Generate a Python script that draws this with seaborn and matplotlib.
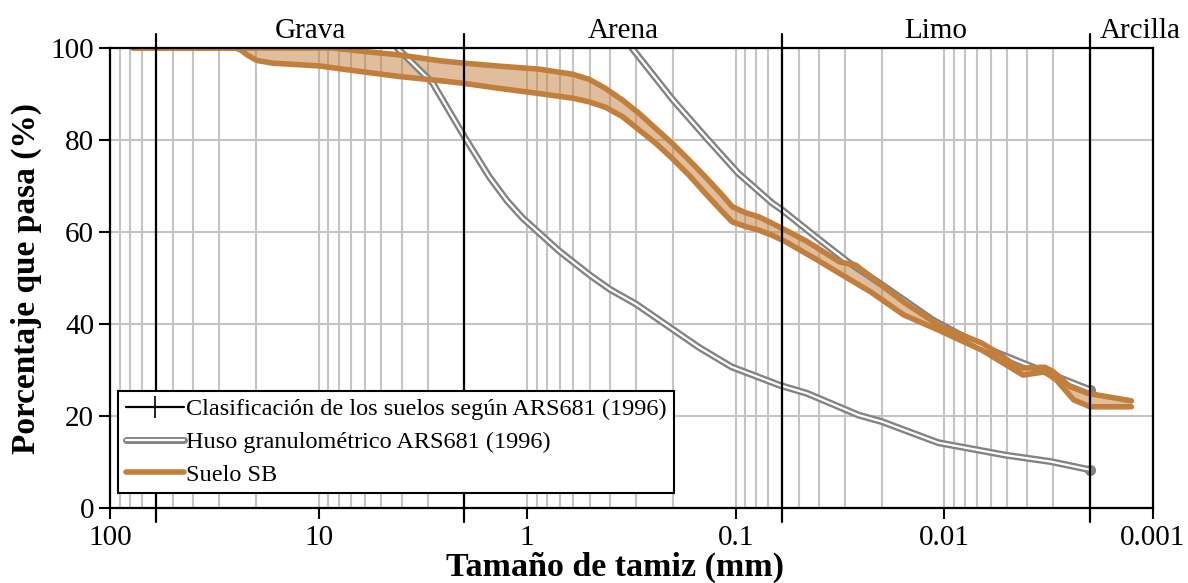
import matplotlib
matplotlib.use("Agg")
import matplotlib.pyplot as plt
import matplotlib.transforms as mtransforms
from matplotlib.lines import Line2D
from matplotlib.legend_handler import HandlerTuple
from matplotlib.ticker import LogLocator, NullFormatter
import seaborn as sns
import pandas as pd

# Suelo SB band (upper / lower curve), size in mm, % passing
sb_sup_mm = [77.6, 20, 8.6, 5.9, 4.1, 2.6, 2.0, 1.4, 0.877, 0.607, 0.505, 0.421, 0.35, 0.291,
             0.242, 0.202, 0.168, 0.14, 0.116, 0.104, 0.09, 0.0776, 0.067, 0.0578, 0.0454,
             0.0318, 0.0266, 0.0226, 0.0157, 0.0107, 0.0066, 0.0055, 0.0044, 0.0033,
             0.0030, 0.0025, 0.00204, 0.00127]
sb_sup_pct = [100, 100, 100, 99.2, 98.5, 97.2, 96.7, 96.1, 95.4, 94.3, 93.2, 91.2, 88.7, 85.8,
              82.5, 79.3, 75.7, 72.0, 68.0, 65.5, 64.2, 63.3, 61.9, 60.4, 57.9,
              53.5, 52.8, 50.3, 44.8, 39.8, 35.8, 33.6, 30.4, 30.6,
              29.6, 26.4, 24.9, 23.3]
sb_inf_mm = [77.6, 25, 23.5, 22, 19.8, 16.6, 9.9, 7.1, 4.1, 2.5, 2.0, 1.4, 0.877, 0.607,
             0.505, 0.421, 0.35, 0.291, 0.242, 0.202, 0.168, 0.14, 0.116, 0.104, 0.09,
             0.0776, 0.067, 0.0578, 0.0406, 0.0318, 0.0226, 0.0157, 0.0107, 0.0066,
             0.0042, 0.0033, 0.0029, 0.0024, 0.0020, 0.00127]
sb_inf_pct = [100, 100, 99.5, 98.5, 97.3, 96.7, 96.1, 95.2, 93.8, 92.8, 92.3, 91.3, 90.1, 89.1,
              88.3, 87.1, 85.1, 82.2, 79.3, 76.0, 72.4, 68.4, 64.4, 62.2, 61.2,
              60.4, 59.3, 57.9, 53.9, 51.0, 47.0, 42.0, 38.7, 34.3,
              28.9, 29.6, 27.8, 23.5, 22.0, 22.0]

# Huso granulometrico ARS681 (1996)
huso_sup_mm = [0.315, 0.2, 0.14, 0.0975, 0.067, 0.06, 0.0415, 0.029, 0.0193, 0.0114,
               0.0066, 0.0038, 0.002]
huso_sup_pct = [100, 88.7, 80.7, 72.8, 66.3, 64.8, 59.0, 53.5, 48.1, 40.9, 35.1, 30.7, 25.7]
huso_inf_mm = [4.2, 2.84, 2.0, 1.52, 1.25, 1.05, 0.7, 0.5, 0.4, 0.3, 0.2, 0.15, 0.105, 0.0617,
               0.0454, 0.0258, 0.02, 0.0107, 0.0051, 0.0031, 0.002]
huso_inf_pct = [100, 92.4, 80.7, 72.0, 66.8, 63.0, 55.8, 50.6, 47.5, 44.3, 38.8, 34.9, 30.7,
                26.7, 24.9, 20.2, 18.8, 14.2, 11.5, 10.1, 8.3]

# Clasificacion ARS681 (1996) limits
limites_mm = [60, 2, 0.06, 0.002]
fracciones = ["Grava", "Arena", "Limo", "Arcilla"]
fracciones_x = [10.95, 0.346, 0.011, 0.00115]

xtick_vals = [100, 10, 1, 0.1, 0.01, 0.001]
xtick_labels = ["100", "10", "1", "0.1", "0.01", "0.001"]
ytick_vals = [0, 20, 40, 60, 80, 100]

sns.set_theme(style="white")
plt.rcParams["font.family"] = ["Liberation Serif", "DejaVu Serif"]
plt.rcParams["text.color"] = "black"
plt.rcParams["axes.labelcolor"] = "black"

orange = "#c27f3c"
gray = "#838383"

fig = plt.figure(figsize=(11.88, 5.83), dpi=100)
ax = fig.add_axes([110 / 1188, 75 / 583, 1043 / 1188, 460 / 583])
ax.set_xscale("log")

# Suelo SB band
sup = pd.DataFrame({"mm": sb_sup_mm, "pct": sb_sup_pct})
inf = pd.DataFrame({"mm": sb_inf_mm, "pct": sb_inf_pct})
ax.fill(list(sup["mm"]) + list(inf["mm"])[::-1], list(sup["pct"]) + list(inf["pct"])[::-1],
        color=orange, alpha=0.5, lw=0, zorder=3)

# Huso curves (double line)
for xs, ys in [(huso_sup_mm, huso_sup_pct), (huso_inf_mm, huso_inf_pct)]:
    d = pd.DataFrame({"mm": xs, "pct": ys})
    sns.lineplot(data=d, x="mm", y="pct", ax=ax, color=gray, lw=5, sort=False,
                 estimator=None, solid_capstyle="round", solid_joinstyle="round", zorder=4,
                 marker="o", markevery=[len(xs) - 1], markersize=8, markeredgewidth=0)
    sns.lineplot(data=d, x="mm", y="pct", ax=ax, color="white", lw=1.6, sort=False,
                 estimator=None, solid_capstyle="round", solid_joinstyle="round", zorder=4.1)

for d in [sup, inf]:
    sns.lineplot(data=d, x="mm", y="pct", ax=ax, color=orange, lw=4, sort=False,
                 estimator=None, solid_capstyle="round", solid_joinstyle="round", zorder=5)

# classification limits
for lim in limites_mm:
    ax.plot([lim, lim, lim, lim], [-3, 0, 100, 103], color="black", lw=1.6,
            marker="+", markevery=[1, 2], markersize=16, markeredgewidth=1.2,
            clip_on=False, zorder=6)

trans = mtransforms.blended_transform_factory(ax.transData, ax.transAxes)
for name, xpos in zip(fracciones, fracciones_x):
    ax.text(xpos, 1.008, name, transform=trans, ha="center", va="bottom",
            fontsize=21, color="black")

ax.set_xlim(100, 0.001)
ax.set_ylim(0, 100)
ax.set_xticks(xtick_vals)
ax.set_xticklabels(xtick_labels)
ax.xaxis.set_minor_locator(LogLocator(base=10, subs=range(2, 10), numticks=20))
ax.xaxis.set_minor_formatter(NullFormatter())
ax.set_yticks(ytick_vals)

ax.set_axisbelow(True)
ax.grid(True, which="both", axis="x", color="#c4c4c4", lw=1.5)
ax.grid(True, which="major", axis="y", color="#c4c4c4", lw=1.5)
for s in ax.spines.values():
    s.set_color("black")
    s.set_linewidth(1.6)
    s.set_zorder(7)

ax.tick_params(axis="both", which="major", direction="out", length=8, width=1.5,
               labelsize=21, color="black", labelcolor="black", bottom=True, left=True)
ax.tick_params(axis="x", which="major", pad=4)
ax.tick_params(axis="x", which="minor", length=0)

ax.set_xlabel("Tamaño de tamiz (mm)", fontsize=24.5, fontweight="bold", color="black")
ax.xaxis.set_label_coords((615 - 110) / 1043, -0.095)
ax.set_ylabel("Porcentaje que pasa (%)", fontsize=24, fontweight="bold", labelpad=6,
              color="black")

h_clas = Line2D([], [], color="black", lw=1.6, marker="+", markersize=16, markeredgewidth=1.2)
h_huso = (Line2D([], [], color=gray, lw=5, solid_capstyle="round"),
          Line2D([], [], color="white", lw=1.6, solid_capstyle="round"))
h_sb = Line2D([], [], color=orange, lw=4)
leg = ax.legend([h_clas, h_huso, h_sb],
                ["Clasificación de los suelos según ARS681 (1996)",
                 "Huso granulométrico ARS681 (1996)", "Suelo SB"],
                handler_map={tuple: HandlerTuple(ndivide=1, pad=0)},
                loc="lower left", bbox_to_anchor=(0.008, 0.032), borderaxespad=0,
                fontsize=17.5, frameon=True, fancybox=False, edgecolor="black",
                framealpha=1, handlelength=2.4, handletextpad=0.1, labelspacing=0.45,
                borderpad=0.3, labelcolor="black")
leg.get_frame().set_linewidth(1.5)
leg.set_zorder(10)

fig.savefig("out.png", dpi=100)
